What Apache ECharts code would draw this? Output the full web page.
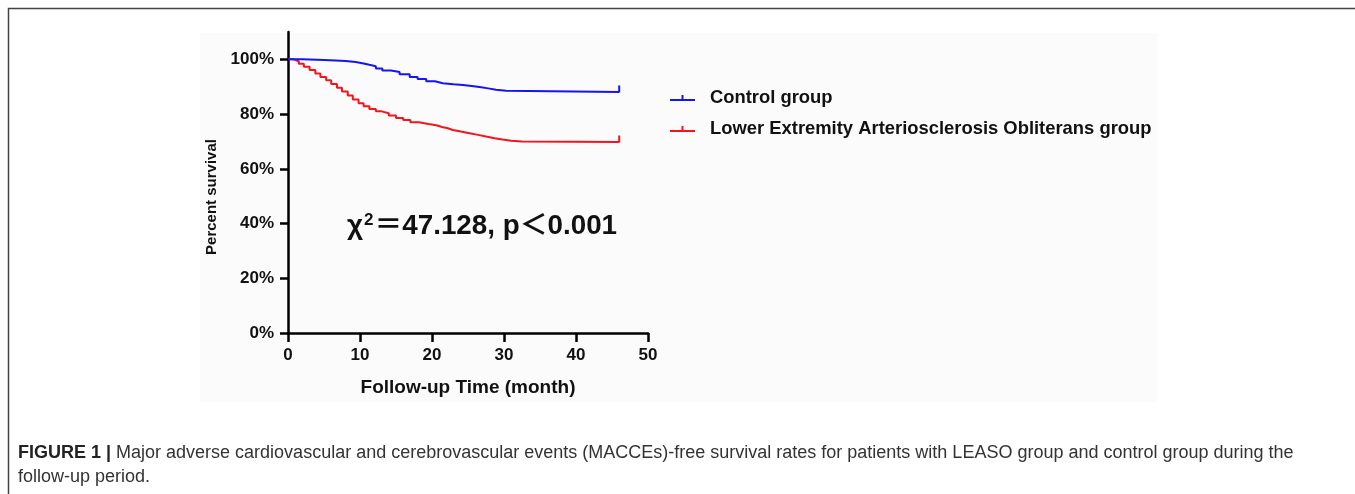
<!DOCTYPE html>
<html>
<head>
<meta charset="utf-8">
<script src="https://cdn.jsdelivr.net/npm/echarts@6/dist/echarts.min.js"></script>
<style>
html,body{margin:0;padding:0;background:#fff;}
#chart{width:1355px;height:494px;}
</style>
</head>
<body>
<div id="chart"></div>
<script>
// ---- data ----
const controlTimes = [0, 2, 5, 6.6, 8, 9.4, 10.5, 11.3, 12.2, 13.1, 14.3, 15.5, 16.9, 18, 19.2, 20.4, 21.5, 23, 24.3, 25.5, 26.6, 27.8, 28.9, 30.3, 46];
const controlSurvival = [100, 99.8, 99.6, 99.4, 99.0, 98.5, 98.0, 97.5, 96.7, 95.9, 95.4, 94.6, 93.6, 92.8, 92.0, 91.3, 90.9, 90.6, 90.3, 89.9, 89.4, 88.9, 88.5, 88.1, 88.1];
const leasoTimes = [0, 0.8, 1.5, 2.2, 3.0, 3.8, 4.5, 5.3, 6.0, 6.8, 7.5, 8.3, 9.0, 9.8, 10.5, 11.3, 12.2, 13.0, 14.0, 15.0, 16.0, 17.0, 18.2, 19.5, 20.6, 21.4, 22.2, 22.9, 24.0, 25.2, 26.4, 27.5, 28.7, 29.8, 31.0, 32.5, 46];
const leasoSurvival = [100, 99.3, 98.4, 97.3, 96.1, 94.8, 93.6, 92.4, 91.0, 89.6, 88.3, 86.8, 85.3, 84.0, 82.9, 81.9, 81.0, 80.3, 79.5, 78.6, 77.8, 77.0, 76.4, 75.9, 75.3, 74.8, 74.2, 73.6, 73.0, 72.4, 71.8, 71.2, 70.7, 70.3, 70.0, 69.8, 69.8];
const seriesNames = ['Control group', 'Lower Extremity Arteriosclerosis Obliterans group'];
const xTicks = [0, 10, 20, 30, 40, 50];
const yTicks = [0, 20, 40, 60, 80, 100];
const xAxisTitle = 'Follow-up Time (month)';
const yAxisTitle = 'Percent survival';
const statText = ['χ', '2', '＝47.128, p＜0.001'];
const captionBold = 'FIGURE 1 |';
const captionLine1 = ' Major adverse cardiovascular and cerebrovascular events (MACCEs)-free survival rates for patients with LEASO group and control group during the';
const captionLine2 = 'follow-up period.';

function toPoints(ts, vs) {
  return ts.map((t, i) => {
    const p = { value: [t, vs[i]] };
    if (i === ts.length - 1) {
      p.symbol = 'path://M0,0h2v7h-2z';
      p.symbolSize = [2, 7];
      p.symbolOffset = [0, -3];
    }
    return p;
  });
}

const chart = echarts.init(document.getElementById('chart'), null, { renderer: 'canvas' });
const FONT = 'Arial, "Liberation Sans", Helvetica, sans-serif';
const legendIcon = 'path://M0,4h25v2h-25z M11.5,0h2v4h-2z';

chart.setOption({
  backgroundColor: '#ffffff',
  animation: false,
  grid: { left: 288, right: 707, top: 32, bottom: 161, containLabel: false },
  legend: {
    orient: 'vertical',
    left: 670,
    top: 89,
    padding: 0,
    itemWidth: 25,
    itemHeight: 6,
    itemGap: 13,
    data: [
      { name: seriesNames[0], icon: legendIcon },
      { name: seriesNames[1], icon: legendIcon }
    ],
    textStyle: { fontFamily: FONT, fontWeight: 'bold', fontSize: 18.4, color: '#111', padding: [0, 0, 0, 10] }
  },
  xAxis: {
    type: 'value',
    min: 0, max: 50, interval: 10,
    axisLine: { show: true, onZero: false, lineStyle: { color: '#000', width: 2.5 } },
    axisTick: { show: true, length: 9, lineStyle: { color: '#000', width: 2.5 } },
    splitLine: { show: false },
    axisLabel: { margin: 14, fontFamily: FONT, fontWeight: 'bold', fontSize: 17, color: '#111',
      customValues: xTicks },
    name: xAxisTitle,
    nameLocation: 'middle',
    nameGap: 45,
    nameTextStyle: { fontFamily: FONT, fontWeight: 'bold', fontSize: 19, color: '#111' }
  },
  yAxis: {
    type: 'value',
    min: 0, max: 110,
    axisLine: { show: true, onZero: false, lineStyle: { color: '#000', width: 2.5 } },
    axisTick: { show: true, length: 8, lineStyle: { color: '#000', width: 2.5 }, customValues: yTicks },
    splitLine: { show: false },
    axisLabel: { margin: 14, fontFamily: FONT, fontWeight: 'bold', fontSize: 17, color: '#111',
      customValues: yTicks, formatter: v => v + '%' }
  },
  series: [
    {
      name: seriesNames[0], type: 'line', step: 'end',
      data: toPoints(controlTimes, controlSurvival),
      showSymbol: true, symbol: 'none',
      color: '#1414f5',
      lineStyle: { color: '#1414f5', width: 2 },
      itemStyle: { color: '#1414f5' },
      z: 3
    },
    {
      name: seriesNames[1], type: 'line', step: 'end',
      data: toPoints(leasoTimes, leasoSurvival),
      showSymbol: true, symbol: 'none',
      color: '#f5141e',
      lineStyle: { color: '#f5141e', width: 2 },
      itemStyle: { color: '#f5141e' },
      z: 2
    }
  ],
  graphic: [
    { type: 'rect', silent: true, z: -10, shape: { x: 200, y: 33, width: 957, height: 369 }, style: { fill: '#fbfbfb' } },
    { type: 'polyline', silent: true, z: 10, shape: { points: [[8.5, 600], [8.5, 8.5], [1400, 8.5]] }, style: { stroke: '#444', lineWidth: 1.5, fill: null } },
    {
      type: 'text', x: 212, y: 197, rotation: Math.PI / 2, z: 10,
      style: { text: yAxisTitle, align: 'center', verticalAlign: 'middle',
        fontFamily: FONT, fontWeight: 'bold', fontSize: 15, fill: '#111' }
    },
    {
      type: 'text', x: 347, y: 226, z: 10,
      style: {
        text: '{a|' + statText[0] + '}{s|' + statText[1] + '}{a|' + statText[2] + '}',
        verticalAlign: 'middle',
        rich: {
          a: { fontFamily: 'Arial, "Liberation Sans", "Noto Sans CJK SC", sans-serif', fontWeight: 'bold', fontSize: 27.8, fill: '#111' },
          s: { fontFamily: FONT, fontWeight: 'bold', fontSize: 17, fill: '#111', verticalAlign: 'top', padding: [0, 1, 12, 1] }
        }
      }
    },
    {
      type: 'text', x: 18, y: 453, z: 10,
      style: {
        text: '{b|' + captionBold + '}{r|' + captionLine1 + '}',
        verticalAlign: 'middle',
        rich: {
          b: { fontFamily: '"Liberation Sans", Arial, sans-serif', fontWeight: 'bold', fontSize: 18, fill: '#222' },
          r: { fontFamily: '"Liberation Sans", Arial, sans-serif', fontSize: 18, fill: '#333' }
        }
      }
    },
    {
      type: 'text', x: 18, y: 477, z: 10,
      style: {
        text: captionLine2, verticalAlign: 'middle',
        fontFamily: '"Liberation Sans", Arial, sans-serif', fontSize: 18, fill: '#333'
      }
    }
  ]
});
</script>
</body>
</html>
